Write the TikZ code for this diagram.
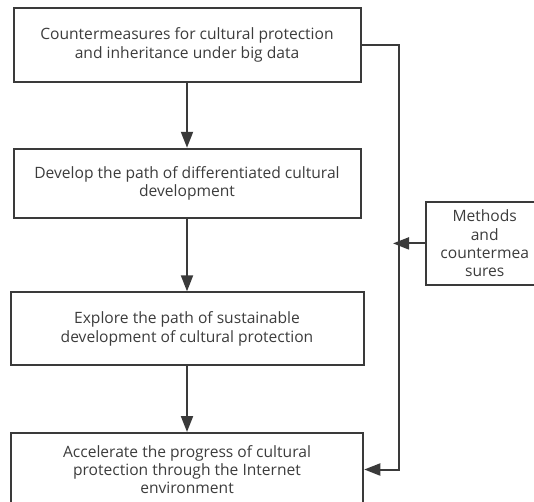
\documentclass[tikz,border=0pt]{standalone}
\usepackage{fontspec}
\setmainfont{Open Sans}
\usetikzlibrary{arrows.meta}
\definecolor{linegray}{HTML}{3A3A3A}
\definecolor{textgray}{HTML}{3C3C3C}
\tikzset{
  box/.style={draw=linegray, line width=2pt, rectangle, inner sep=0pt, align=center,
    text=textgray, font=\fontsize{15.6}{18.4}\selectfont},
  arr/.style={draw=linegray, line width=2pt, -{Triangle[length=16pt,width=12pt]}},
}
\begin{document}
\begin{tikzpicture}[x=1pt,y=-1pt]
\clip (0,0) rectangle (534,501);
\node[box, minimum width=347pt, minimum height=74.5pt] (b1) at (187,44.8)
  {Countermeasures for cultural protection\\and inheritance under big data};
\node[box, minimum width=347pt, minimum height=69.5pt] (b2) at (187,183.5)
  {Develop the path of differentiated cultural\\development};
\node[box, minimum width=353pt, minimum height=72.7pt] (b3) at (187,328.7)
  {Explore the path of sustainable\\development of cultural protection};
\node[box, minimum width=352.5pt, minimum height=73pt] (b4) at (187,469.5)
  {Accelerate the progress of cultural\\protection through the Internet\\environment};
\node[box, minimum width=118pt, minimum height=82.2pt] (m) at (484.7,243.4)
  {Methods\\and\\countermea\\sures};
\coordinate (r) at (398.7,44.8);
\coordinate (j) at (393,243.4);
\draw[arr] (b1.south) -- (b2.north);
\draw[arr] (b2.south) -- (b3.north);
\draw[arr] (b3.south) -- (b4.north);
\draw[arr] (b1.east) -- (r) |- (b4.east);
\draw[arr] (m.west) -- (j);
\end{tikzpicture}
\end{document}
